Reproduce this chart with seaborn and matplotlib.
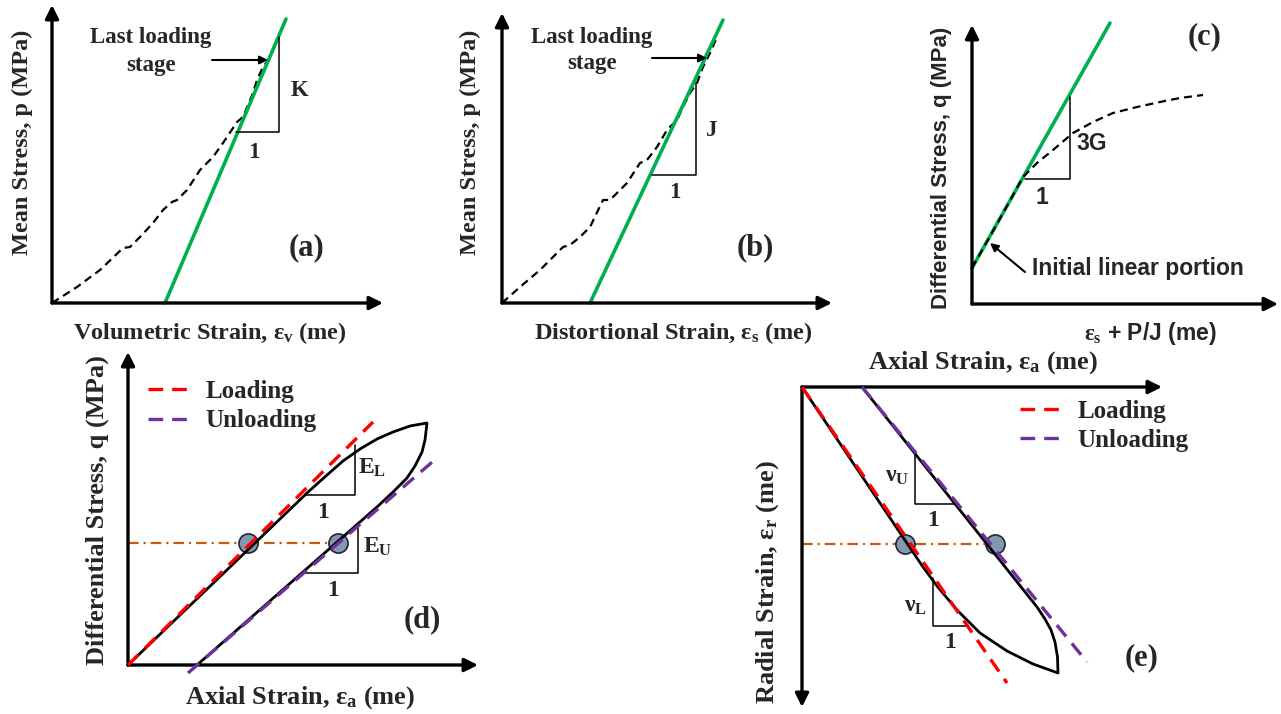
import seaborn as sns
import matplotlib.pyplot as plt

W, H = 1281, 714
PX = 10  # figure pixels per data unit (same in every panel)

GREEN = "#00b050"
RED = "#ff0000"
PURPLE = "#7030a0"
ORANGE = "#c55a11"
DOT_FACE = "#8497b0"

# ---- (a) mean stress vs volumetric strain
a_strain = [0.0, 2.5, 4.8, 7.1, 7.8, 8.8, 10.1, 11.1, 12.0, 12.5, 13.5,
            14.8, 15.5, 16.1, 17.1, 18.5, 19.1, 20.1, 20.5, 21.1, 21.8, 22.5]
a_stress = [0.0, 1.6, 3.3, 5.5, 5.6, 6.6, 8.0, 9.3, 10.1, 10.3, 11.3,
            13.3, 14.0, 14.6, 16.0, 18.1, 18.6, 21.0, 22.3, 23.6, 24.5, 26.3]
a_fit_strain = [11.3, 23.4]
a_fit_stress = [0.0, 28.4]
a_tri_strain = [18.4, 22.7, 22.7]
a_tri_stress = [17.1, 17.1, 26.6]

# ---- (b) mean stress vs distortional strain
b_strain = [0.0, 1.8, 3.8, 6.1, 6.8, 7.8, 8.8, 10.1, 10.8, 12.5, 13.8,
            14.5, 15.5, 16.5, 17.5, 18.1, 18.8, 19.5, 20.1, 20.8, 21.5]
b_stress = [0.0, 1.6, 3.3, 5.6, 5.8, 6.6, 7.6, 10.3, 10.3, 12.0, 14.0,
            14.3, 15.6, 17.3, 18.3, 19.6, 21.0, 22.0, 23.6, 25.0, 26.6]
b_fit_strain = [8.8, 22.1]
b_fit_stress = [0.0, 28.3]
b_tri_strain = [15.0, 19.4, 19.4]
b_tri_stress = [12.8, 12.8, 22.0]

# ---- (c) differential stress vs es + P/J
c_strain = [0.0, 2.5, 5.1, 6.5, 8.1, 10.1, 12.1, 14.1, 16.5, 18.8, 20.8, 23.1]
c_stress = [3.6, 8.0, 12.7, 14.1, 15.4, 17.1, 18.2, 19.1, 19.7, 20.2, 20.6, 20.9]
c_fit_strain = [0.0, 13.8]
c_fit_stress = [3.6, 28.1]
c_tri_strain = [5.3, 9.8, 9.8]
c_tri_stress = [12.5, 12.5, 20.7]

# ---- (d) differential stress vs axial strain, load/unload loop
d_load_strain = [0.0, 17.9, 19.9, 21.5, 23.2, 24.9, 26.5, 28.2, 29.9]
d_load_stress = [0.0, 17.2, 19.0, 20.4, 21.6, 22.6, 23.3, 23.9, 24.2]
d_unload_strain = [29.9, 29.7, 29.4, 28.7, 27.9, 26.5, 24.9, 6.9]
d_unload_stress = [24.2, 22.5, 21.3, 19.9, 18.7, 17.3, 15.8, 0.0]
d_EL_strain = [0.0, 24.5]
d_EL_stress = [0.0, 24.3]
d_EU_strain = [6.0, 31.0]
d_EU_stress = [-0.8, 20.8]
d_mid_stress = 12.2
d_mid_strain = [12.0, 21.0]
d_triL_strain = [17.7, 22.7, 22.7]
d_triL_stress = [17.0, 17.0, 22.0]
d_triU_strain = [17.4, 23.0, 23.0]
d_triU_stress = [9.2, 9.2, 13.8]

# ---- (e) radial strain vs axial strain, load/unload loop
e_load_axial = [0.0, 12.1, 13.5, 15.5, 17.8, 20.5, 23.1, 25.6]
e_load_radial = [0.0, -18.0, -19.9, -22.3, -24.6, -26.4, -27.7, -28.6]
e_unload_axial = [25.6, 25.55, 25.3, 24.9, 24.3, 23.5, 6.0]
e_unload_radial = [-28.6, -27.0, -25.5, -24.3, -23.2, -22.0, 0.0]
e_nuL_axial = [0.0, 20.5]
e_nuL_radial = [0.0, -29.6]
e_nuU_axial = [6.0, 28.5]
e_nuU_radial = [0.0, -27.5]
e_mid_radial = -15.7
e_mid_axial = [10.3, 19.3]
e_triU_axial = [11.3, 11.3, 15.6]
e_triU_radial = [-6.5, -11.7, -11.7]
e_triL_axial = [13.1, 13.1, 16.5]
e_triL_radial = [-19.1, -23.9, -23.9]

sns.set_theme(style="white")
plt.rcParams["font.family"] = ["Liberation Serif", "DejaVu Serif"]
plt.rcParams["font.weight"] = "bold"
plt.rcParams["mathtext.fontset"] = "custom"
plt.rcParams["mathtext.rm"] = "Liberation Serif:bold"
plt.rcParams["mathtext.it"] = "Liberation Serif:bold"
plt.rcParams["mathtext.bf"] = "Liberation Serif:bold"

SANS = ["Liberation Sans", "DejaVu Sans"]
LAB = 17.5     # axis titles, top row
LAB2 = 19      # axis titles, bottom row
TXT = 16.5
SANS_TXT = 16.5
TAG = 22


def make_panel(fig, ox, oy, xlim, ylim):
    l = (ox + PX * xlim[0]) / W
    b = 1 - (oy - PX * ylim[0]) / H
    w = PX * (xlim[1] - xlim[0]) / W
    h = PX * (ylim[1] - ylim[0]) / H
    ax = fig.add_axes([l, b, w, h])
    ax.set_xlim(xlim)
    ax.set_ylim(ylim)
    ax.set_axis_off()
    return ax


def axis_arrows(ax, xend, yend):
    for end in [(xend, 0), (0, yend)]:
        ax.annotate("", xy=end, xytext=(0, 0), annotation_clip=False,
                    arrowprops=dict(arrowstyle="-|>", lw=2.4, color="black",
                                    mutation_scale=20, shrinkA=0, shrinkB=0))


def line(ax, x, y, **kw):
    sns.lineplot(x=x, y=y, sort=False, estimator=None, ax=ax, legend=False, **kw)


def pointer(ax, tail, head):
    ax.annotate("", xy=head, xytext=tail, annotation_clip=False,
                arrowprops=dict(arrowstyle="-|>", lw=1.5, color="black",
                                mutation_scale=12, shrinkA=0, shrinkB=0))


fig = plt.figure(figsize=(W / 100, H / 100), dpi=100)

dash_k = (0, (3.6, 2.3))
dash_c = (0, (4.4, 2.7))
dashdot = (0, (4.8, 2.2, 1.0, 2.2))

# (a)
ax = make_panel(fig, 52, 303, (-4.5, 34), (-4, 30.5))
axis_arrows(ax, 33.1, 29.8)
line(ax, a_strain, a_stress, color="black", lw=1.6, linestyle=dash_k)
line(ax, a_fit_strain, a_fit_stress, color=GREEN, lw=2.6)
line(ax, a_tri_strain, a_tri_stress, color="black", lw=1.1)
pointer(ax, (16.0, 24.3), (21.6, 24.3))
ax.text(9.9, 26.5, "Last loading", ha="center", va="center", fontsize=TXT)
ax.text(9.9, 23.8, "stage", ha="center", va="center", fontsize=TXT)
ax.text(24.8, 21.2, "K", ha="center", va="center", fontsize=TXT)
ax.text(20.2, 15.1, "1", ha="center", va="center", fontsize=TXT)
ax.text(25.4, 5.5, "(a)", ha="center", va="center", fontsize=TAG)
ax.text(15.8, -3.0, r"Volumetric Strain, $\mathrm{\varepsilon_v}$ (me)",
        ha="center", va="center", fontsize=LAB)
ax.text(-3.0, 16.1, "Mean Stress, p (MPa)", rotation=90,
        ha="center", va="center", fontsize=LAB)

# (b)
ax = make_panel(fig, 502, 303, (-4.5, 34), (-4, 30.5))
axis_arrows(ax, 33.0, 29.0)
line(ax, b_strain, b_stress, color="black", lw=1.6, linestyle=dash_k)
line(ax, b_fit_strain, b_fit_stress, color=GREEN, lw=2.6)
line(ax, b_tri_strain, b_tri_stress, color="black", lw=1.1)
pointer(ax, (15.0, 24.5), (20.5, 24.5))
ax.text(9.0, 26.6, "Last loading", ha="center", va="center", fontsize=TXT)
ax.text(9.0, 24.0, "stage", ha="center", va="center", fontsize=TXT)
ax.text(21.0, 17.3, "J", ha="center", va="center", fontsize=TXT)
ax.text(17.3, 11.1, "1", ha="center", va="center", fontsize=TXT)
ax.text(25.3, 5.5, "(b)", ha="center", va="center", fontsize=TAG)
ax.text(17.1, -3.0, r"Distortional Strain, $\mathrm{\varepsilon_s}$ (me)",
        ha="center", va="center", fontsize=LAB)
ax.text(-3.2, 16.1, "Mean Stress, p (MPa)", rotation=90,
        ha="center", va="center", fontsize=LAB)

# (c)
ax = make_panel(fig, 972, 304, (-4.5, 30.9), (-4, 29))
axis_arrows(ax, 30.6, 27.9)
line(ax, c_fit_strain, c_fit_stress, color=GREEN, lw=2.6)
line(ax, c_strain, c_stress, color="black", lw=1.6, linestyle=dash_k)
line(ax, c_tri_strain, c_tri_stress, color="black", lw=1.1)
pointer(ax, (5.3, 3.2), (1.8, 6.1))
ax.text(6.0, 3.6, "Initial linear portion", ha="left", va="center",
        fontsize=SANS_TXT, family=SANS)
ax.text(12.0, 16.1, "3G", ha="center", va="center", fontsize=SANS_TXT, family=SANS)
ax.text(7.0, 10.7, "1", ha="center", va="center", fontsize=SANS_TXT, family=SANS)
ax.text(23.3, 26.7, "(c)", ha="center", va="center", fontsize=TAG)
ax.text(17.8, -2.9, r"$\mathrm{\varepsilon_s}$ + P/J (me)", ha="center",
        va="center", fontsize=SANS_TXT, family=SANS)
ax.text(-3.0, 13.6, "Differential Stress, q (MPa)", rotation=90,
        ha="center", va="center", fontsize=16, family=SANS)

# (d)
ax = make_panel(fig, 128, 665, (-4.5, 35.5), (-4.9, 31.5))
axis_arrows(ax, 35.0, 31.3)
line(ax, [0.0, d_mid_strain[1]], [d_mid_stress, d_mid_stress],
     color=ORANGE, lw=1.6, linestyle=dashdot)
sns.scatterplot(x=d_mid_strain, y=[d_mid_stress] * 2, s=190, color=DOT_FACE,
                edgecolor="#1e2633", linewidth=1.2, ax=ax, zorder=3, legend=False)
line(ax, d_load_strain + d_unload_strain[1:], d_load_stress + d_unload_stress[1:],
     color="black", lw=2.0, zorder=4)
line(ax, d_EL_strain, d_EL_stress, color=RED, lw=2.4, linestyle=dash_c,
     zorder=5, label="Loading")
line(ax, d_EU_strain, d_EU_stress, color=PURPLE, lw=2.4, linestyle=dash_c,
     zorder=5, label="Unloading")
line(ax, d_triL_strain, d_triL_stress, color="black", lw=1.1)
line(ax, d_triU_strain, d_triU_stress, color="black", lw=1.1)
ax.legend(loc="upper left", bbox_to_anchor=(2.0, 28.5),
          bbox_transform=ax.transData, frameon=False, borderpad=0,
          borderaxespad=0, handlelength=1.8, handletextpad=0.5,
          labelspacing=0.25, prop=dict(size=18, weight="bold"))
ax.text(24.4, 19.7, r"$\mathrm{E_L}$", ha="center", va="center", fontsize=17)
ax.text(19.5, 15.3, "1", ha="center", va="center", fontsize=17)
ax.text(25.0, 11.8, r"$\mathrm{E_U}$", ha="center", va="center", fontsize=17)
ax.text(20.5, 7.5, "1", ha="center", va="center", fontsize=17)
ax.text(29.4, 4.5, "(d)", ha="center", va="center", fontsize=TAG)
ax.text(17.2, -3.3, r"Axial Strain, $\mathrm{\varepsilon_a}$ (me)",
        ha="center", va="center", fontsize=LAB2)
ax.text(-3.1, 15.5, "Differential Stress, q (MPa)", rotation=90,
        ha="center", va="center", fontsize=LAB2)

# (e)
ax = make_panel(fig, 802, 387, (-4.5, 37), (-33, 4))
axis_arrows(ax, 36.0, -32.0)
line(ax, [0.0, e_mid_axial[1]], [e_mid_radial, e_mid_radial],
     color=ORANGE, lw=1.6, linestyle=dashdot)
sns.scatterplot(x=e_mid_axial, y=[e_mid_radial] * 2, s=190, color=DOT_FACE,
                edgecolor="#1e2633", linewidth=1.2, ax=ax, zorder=3, legend=False)
line(ax, e_load_axial + e_unload_axial[1:], e_load_radial + e_unload_radial[1:],
     color="black", lw=2.0, zorder=4)
line(ax, e_nuL_axial, e_nuL_radial, color=RED, lw=2.4, linestyle=dash_c,
     zorder=5, label="Loading")
line(ax, e_nuU_axial, e_nuU_radial, color=PURPLE, lw=2.4, linestyle=dash_c,
     zorder=5, label="Unloading")
line(ax, e_triU_axial, e_triU_radial, color="black", lw=1.1)
line(ax, e_triL_axial, e_triL_radial, color="black", lw=1.1)
ax.legend(loc="upper left", bbox_to_anchor=(21.8, -1.3),
          bbox_transform=ax.transData, frameon=False, borderpad=0,
          borderaxespad=0, handlelength=1.8, handletextpad=0.5,
          labelspacing=0.25, prop=dict(size=18, weight="bold"))
ax.text(9.5, -9.0, r"$\mathrm{\nu_U}$", ha="center", va="center", fontsize=17)
ax.text(13.1, -13.3, "1", ha="center", va="center", fontsize=17)
ax.text(11.3, -22.0, r"$\mathrm{\nu_L}$", ha="center", va="center", fontsize=17)
ax.text(14.8, -25.6, "1", ha="center", va="center", fontsize=17)
ax.text(34.0, -27.1, "(e)", ha="center", va="center", fontsize=TAG)
ax.text(18.1, 2.4, r"Axial Strain, $\mathrm{\varepsilon_a}$ (me)",
        ha="center", va="center", fontsize=LAB2)
ax.text(-3.4, -19.5, r"Radial Strain, $\mathrm{\varepsilon_r}$ (me)",
        rotation=90, ha="center", va="center", fontsize=LAB2)

fig.savefig("out.png", dpi=100)
